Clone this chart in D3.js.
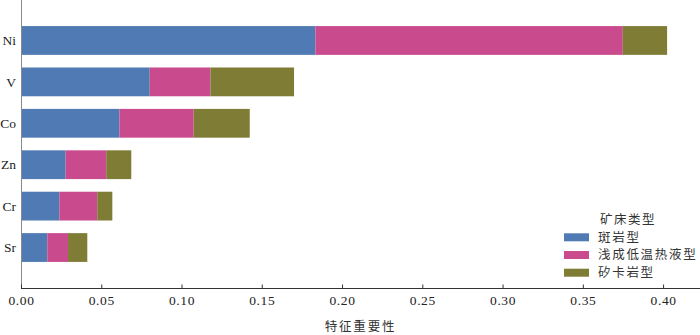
<!DOCTYPE html>
<html><head><meta charset="utf-8">
<script src="https://cdn.jsdelivr.net/npm/d3@7"></script>
<style>body{margin:0;background:#fff}</style>
</head><body>
<svg id="c" width="700" height="335"></svg>
<script>
const categories = ["Ni","V","Co","Zn","Cr","Sr"];
const seriesNames = ["斑岩型","浅成低温热液型","矽卡岩型"];
const porphyry = [0.1834,0.0802,0.0613,0.0278,0.0239,0.0164];
const epithermal = [0.1915,0.0378,0.0463,0.0253,0.0236,0.0129];
const skarn = [0.0276,0.0521,0.0349,0.0156,0.0094,0.0120];
const xTicks = [0,0.05,0.10,0.15,0.20,0.25,0.30,0.35,0.40];
const colors = ["#4f7ab3","#ca4a8e","#7f7c36"];
const legendTitle = "矿床类型";
const xTitle = "特征重要性";

const svg = d3.select("#c");
const x0 = 21, x1 = 700, yAxis = 288;
const x = d3.scaleLinear().domain([0, 0.423]).range([x0, x1]);
const y = d3.scaleBand().domain(categories).range([0, yAxis]).paddingInner(0.305).paddingOuter(0.63);

const rows = categories.map((c,i)=>({cat:c, porphyry:porphyry[i], epithermal:epithermal[i], skarn:skarn[i]}));
const stack = d3.stack().keys(["porphyry","epithermal","skarn"])(rows);

svg.append("g").selectAll("g").data(stack).join("g")
  .attr("fill",(d,i)=>colors[i])
  .selectAll("rect").data(d=>d).join("rect")
  .attr("x",d=>x(d[0])).attr("width",d=>x(d[1])-x(d[0]))
  .attr("y",d=>y(d.data.cat)).attr("height",y.bandwidth());

// y axis line
svg.append("line").attr("x1",x0+0.5).attr("x2",x0+0.5).attr("y1",0).attr("y2",yAxis)
  .attr("stroke","#8a8a8a").attr("stroke-width",1);
// category labels
svg.append("g").selectAll("text").data(categories).join("text")
  .attr("x",16).attr("y",d=>y(d)+y.bandwidth()/2).attr("dy","0.35em")
  .attr("text-anchor","end").attr("font-family","Liberation Serif, serif").attr("font-size",13.5)
  .attr("fill","#222").text(d=>d);

// x axis
const xa = svg.append("g").attr("transform",`translate(0,${yAxis+0.5})`)
  .call(d3.axisBottom(x).tickValues(xTicks).tickFormat(d3.format(".2f")).tickSizeInner(-4).tickSizeOuter(0));
xa.select(".domain").attr("stroke","#333").attr("d",`M${x0},0H${x1}`);
xa.selectAll(".tick line").attr("stroke","#333");
xa.selectAll(".tick text").attr("y",7).attr("dy","0.71em")
  .attr("font-family","Liberation Serif, serif").attr("font-size",13.5).attr("fill","#222")
  .attr("letter-spacing","0.6px");

svg.append("text").attr("x",(x0+x1)/2).attr("y",331)
  .attr("text-anchor","middle").attr("font-family","Noto Sans CJK SC, sans-serif").attr("font-size",12.5)
  .attr("letter-spacing","1.8px").attr("fill","#333").text(xTitle);

// legend
const lg = svg.append("g");
lg.append("text").attr("x",600).attr("y",219.5).attr("dy","0.35em")
  .attr("font-family","Noto Sans CJK SC, sans-serif").attr("font-size",12.5)
  .attr("letter-spacing","1.5px").attr("fill","#333").text(legendTitle);
seriesNames.forEach((n,i)=>{
  const cy = 237.3 + i*17.7;
  lg.append("rect").attr("x",564).attr("y",cy-4).attr("width",25).attr("height",8).attr("fill",colors[i]);
  lg.append("text").attr("x",598).attr("y",cy).attr("dy","0.35em")
    .attr("font-family","Noto Sans CJK SC, sans-serif").attr("font-size",12.5)
    .attr("letter-spacing","1.7px").attr("fill","#333").text(n);
});
</script>
</body></html>
